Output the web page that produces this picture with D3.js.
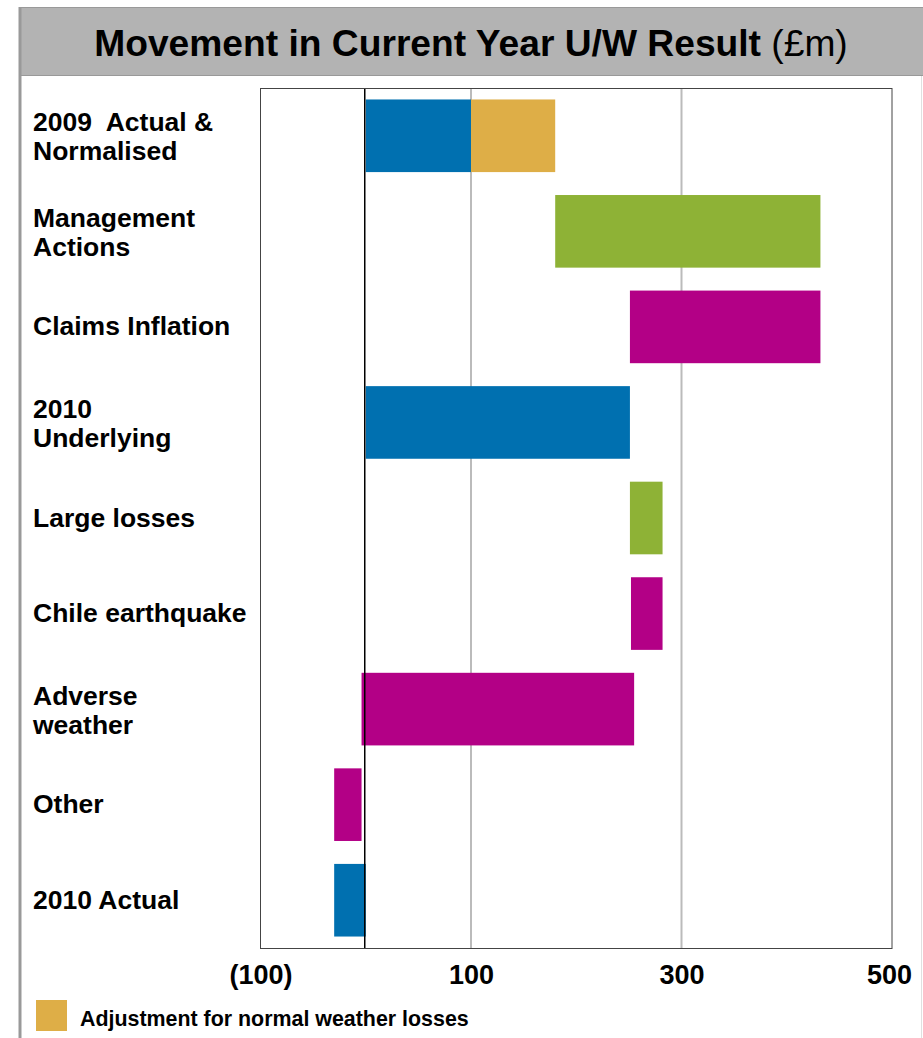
<!DOCTYPE html>
<html>
<head>
<meta charset="utf-8">
<script src="https://cdn.jsdelivr.net/npm/d3@7"></script>
<style>
  body { margin: 0; background: #fff; }
  svg { font-family: "Liberation Sans", Arial, sans-serif; display: block; }
  .cat { font-size: 26.5px; font-weight: bold; fill: #000; white-space: pre; }
  .tick-label { font-size: 27px; font-weight: bold; fill: #000; }
</style>
</head>
<body>
<svg width="923" height="1038"></svg>
<script>
// waterfall steps, £m
const categories = [
  "2009  Actual & Normalised",
  "Management Actions",
  "Claims Inflation",
  "2010 Underlying",
  "Large losses",
  "Chile earthquake",
  "Adverse weather",
  "Other",
  "2010 Actual"
];
const labelLines = [
  ["2009  Actual &", "Normalised"],
  ["Management", "Actions"],
  ["Claims Inflation"],
  ["2010", "Underlying"],
  ["Large losses"],
  ["Chile earthquake"],
  ["Adverse", "weather"],
  ["Other"],
  ["2010 Actual"]
];
const barStart = [0, 180, 251, 0, 251, 252, -4, -30, -30];
const barEnd = [100, 432, 432, 251, 282, 282, 255, -4, 0];
const barKind = ["total", "up", "down", "total", "up", "down", "down", "down", "total"];
// normalised weather adjustment on top of 2009 actual
const adjStart = [100];
const adjEnd = [180];
const tickValues = [-100, 100, 300, 500];
const tickLabels = ["(100)", "100", "300", "500"];

const colors = { total: "#0070b0", up: "#8eb236", down: "#b30086", adj: "#deae47" };

const svg = d3.select("svg");

// header band + frame
svg.append("rect")
  .attr("x", 19.5).attr("y", 7.5).attr("width", 910).attr("height", 68)
  .attr("fill", "#b3b3b3").attr("stroke", "#999").attr("stroke-width", 1);
svg.append("line")
  .attr("x1", 20).attr("x2", 20).attr("y1", 7).attr("y2", 1038)
  .attr("stroke", "#999").attr("stroke-width", 3);
svg.append("line")
  .attr("x1", 921.5).attr("x2", 921.5).attr("y1", 76).attr("y2", 1038)
  .attr("stroke", "#e0e0e0").attr("stroke-width", 1);

const title = svg.append("text")
  .attr("x", 471).attr("y", 56)
  .attr("text-anchor", "middle")
  .attr("font-size", 37.2);
title.append("tspan").attr("font-weight", "bold").text("Movement in Current Year U/W Result ");
title.append("tspan").text("(£m)");

const plotL = 260.5, plotR = 892, plotT = 88, plotB = 948;

const x = d3.scaleLinear().domain([-100, 500]).range([plotL, plotR]);
const y = d3.scaleBand().domain(categories).range([plotT, plotB]).paddingInner(0.24).paddingOuter(0.12);

// gridlines
svg.append("g")
  .selectAll("line")
  .data([100, 300])
  .join("line")
  .attr("x1", d => x(d)).attr("x2", d => x(d))
  .attr("y1", plotT).attr("y2", plotB)
  .attr("stroke", "#bbb").attr("stroke-width", 2);

// bars
svg.append("g")
  .selectAll("rect")
  .data(categories)
  .join("rect")
  .attr("x", (d, i) => x(Math.min(barStart[i], barEnd[i])))
  .attr("width", (d, i) => Math.abs(x(barEnd[i]) - x(barStart[i])))
  .attr("y", d => y(d))
  .attr("height", y.bandwidth())
  .attr("fill", (d, i) => colors[barKind[i]]);

svg.append("g")
  .selectAll("rect")
  .data(adjStart)
  .join("rect")
  .attr("x", (d, i) => x(d))
  .attr("width", (d, i) => x(adjEnd[i]) - x(d))
  .attr("y", y(categories[0]))
  .attr("height", y.bandwidth())
  .attr("fill", colors.adj);

// zero line
svg.append("line")
  .attr("x1", x(0) - 1).attr("x2", x(0) - 1)
  .attr("y1", plotT).attr("y2", plotB)
  .attr("stroke", "#000").attr("stroke-width", 1.5);

// plot frame
svg.append("rect")
  .attr("x", plotL).attr("y", plotT + 0.5)
  .attr("width", plotR - plotL).attr("height", plotB - plotT)
  .attr("fill", "none").attr("stroke", "#444").attr("stroke-width", 1);

// x axis labels
const xAxis = svg.append("g")
  .attr("transform", `translate(0, ${plotB})`)
  .call(d3.axisBottom(x).tickValues(tickValues).tickSize(0).tickPadding(36)
    .tickFormat((d, i) => tickLabels[i]));
xAxis.select(".domain").remove();
xAxis.selectAll("text")
  .attr("class", "tick-label")
  .attr("font-family", null).attr("font-size", null)
  .attr("dy", "0");
xAxis.selectAll(".tick").filter(d => d === 500).select("text").attr("dx", -3);

// category labels
const cats = svg.append("g")
  .selectAll("text")
  .data(categories)
  .join("text")
  .attr("class", "cat")
  .attr("x", 33)
  .attr("y", (d, i) => {
    const mid = y(d) + y.bandwidth() / 2;
    return labelLines[i].length > 1 ? mid - 4.5 : mid + 8.5;
  });
cats.selectAll("tspan")
  .data((d, i) => labelLines[i])
  .join("tspan")
  .attr("x", 33)
  .attr("dy", (d, j) => j === 0 ? 0 : 29)
  .text(d => d);

// legend
svg.append("rect")
  .attr("x", 36).attr("y", 1000).attr("width", 31).attr("height", 31)
  .attr("fill", colors.adj);
svg.append("text")
  .attr("x", 80).attr("y", 1026)
  .attr("font-size", 21.4).attr("font-weight", "bold")
  .text("Adjustment for normal weather losses");
</script>
</body>
</html>
